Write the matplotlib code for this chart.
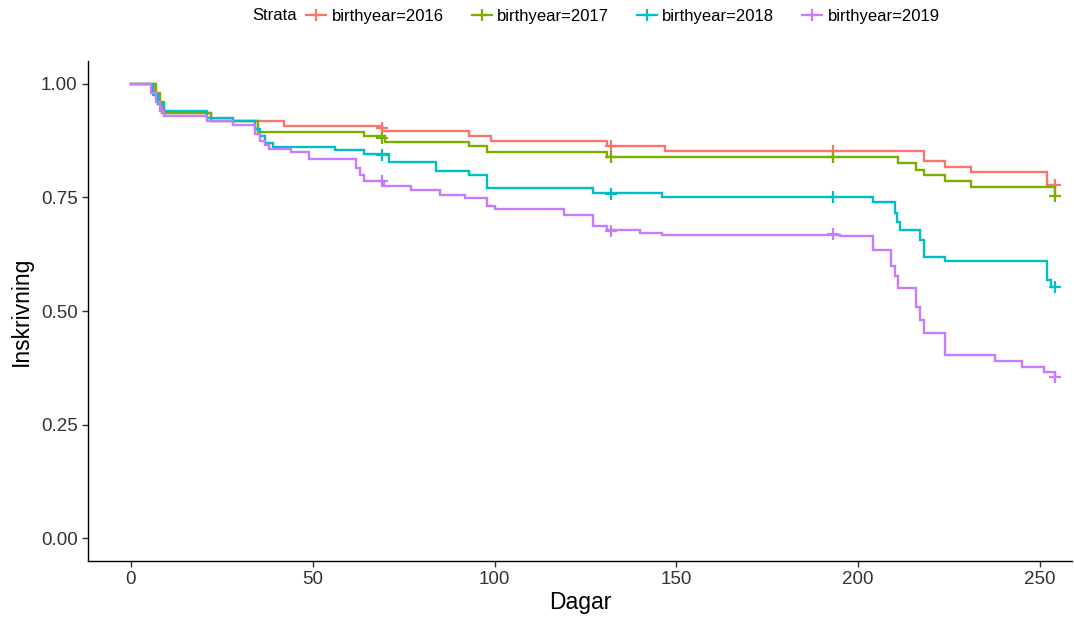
import matplotlib
matplotlib.use("Agg")
import matplotlib.pyplot as plt
from matplotlib.lines import Line2D
from matplotlib.ticker import FormatStrFormatter

plt.rcParams['font.family'] = ['Liberation Sans', 'DejaVu Sans']

strata = ["birthyear=2016", "birthyear=2017", "birthyear=2018", "birthyear=2019"]
colors = ["#F8766D", "#7CAE00", "#00BFC4", "#C77CFF"]

t2016 = [0, 6.5, 7.5, 8.5, 22, 42, 69, 93, 99, 131, 147, 218, 224, 231, 252, 254]
s2016 = [1.0, 0.975, 0.955, 0.935, 0.917, 0.906, 0.897, 0.886, 0.874, 0.862, 0.851,
         0.831, 0.817, 0.805, 0.778, 0.778]

t2017 = [0, 7, 8, 9, 22, 35, 64, 70, 93, 98, 131, 211, 216, 218, 224, 231, 254]
s2017 = [1.0, 0.98, 0.96, 0.936, 0.917, 0.894, 0.884, 0.872, 0.862, 0.849, 0.838,
         0.825, 0.811, 0.800, 0.785, 0.772, 0.752]

t2018 = [0, 6, 7.5, 9, 21, 28, 34, 35.5, 37, 39, 56, 64, 71, 84, 93, 98, 127, 146,
         204, 210, 210.7, 211.5, 217, 218, 224, 252, 253, 254]
s2018 = [1.0, 0.975, 0.955, 0.941, 0.924, 0.917, 0.90, 0.885, 0.87, 0.861, 0.855,
         0.846, 0.828, 0.808, 0.80, 0.770, 0.759, 0.750, 0.739, 0.716, 0.695, 0.678,
         0.656, 0.619, 0.609, 0.568, 0.553, 0.553]

t2019 = [0, 5.5, 7, 8, 9, 21, 28, 34, 35.5, 37, 38, 44, 49, 62, 63, 64, 69.5, 77, 85,
         92, 98, 100, 119, 127, 131, 140, 146, 195, 204, 209, 210, 211, 216, 217, 218,
         224, 237.5, 245, 251, 254]
s2019 = [1.0, 0.98, 0.96, 0.94, 0.928, 0.918, 0.91, 0.89, 0.875, 0.865, 0.856, 0.849,
         0.835, 0.815, 0.80, 0.785, 0.775, 0.767, 0.756, 0.748, 0.730, 0.724, 0.711,
         0.687, 0.678, 0.672, 0.668, 0.664, 0.634, 0.598, 0.576, 0.550, 0.509, 0.48,
         0.451, 0.403, 0.39, 0.377, 0.365, 0.355]

cens_t = [69, 132, 193, 254]
c2016 = [0.903, 0.862, 0.851, 0.778]
c2017 = [0.881, 0.838, 0.838, 0.752]
c2018 = [0.843, 0.757, 0.750, 0.553]
c2019 = [0.786, 0.677, 0.669, 0.355]

xticks = [0, 50, 100, 150, 200, 250]
yticks = [0.0, 0.25, 0.5, 0.75, 1.0]

series = [(t2016, s2016, c2016), (t2017, s2017, c2017),
          (t2018, s2018, c2018), (t2019, s2019, c2019)]

fig = plt.figure(figsize=(10.74, 6.2), dpi=100)
ax = fig.add_axes([88/1074, 1 - 561/620, (1072-88)/1074, (561-61)/620])

for (t, s, c), col in zip(series, colors):
    ax.step(t, s, where='post', color=col, lw=1.7, solid_joinstyle='miter')
    ax.plot(cens_t, c, linestyle='none', marker='+', color=col, ms=9, mew=1.6)

ax.set_xlim(-11.8, 258.8)
ax.set_ylim(-0.05, 1.05)
ax.set_xticks(xticks)
ax.set_yticks(yticks)
ax.yaxis.set_major_formatter(FormatStrFormatter('%.2f'))
for sp in ['top', 'right']:
    ax.spines[sp].set_visible(False)
for sp in ['left', 'bottom']:
    ax.spines[sp].set_color('black')
    ax.spines[sp].set_linewidth(1.0)
ax.tick_params(axis='both', direction='out', length=4, width=1, colors='#333333',
               labelsize=13.5, labelcolor='#333333')
ax.set_xlabel("Dagar", fontsize=16.5, color='black', labelpad=2)
ax.set_ylabel("Inskrivning", fontsize=16.5, color='black', labelpad=6)

handles = [Line2D([], [], color=col, lw=1.6, marker='+', ms=9, mew=1.6) for col in colors]
fig.text(252/1074, 1 - 16/620, "Strata", fontsize=12, va='center', ha='left')
fig.legend(handles, strata, loc='center', bbox_to_anchor=(623/1074, 1 - 16/620),
           ncol=4, frameon=False, fontsize=12, handlelength=1.2, columnspacing=1.7,
           handletextpad=0.3, borderpad=0)

fig.savefig("out.png", dpi=100)
